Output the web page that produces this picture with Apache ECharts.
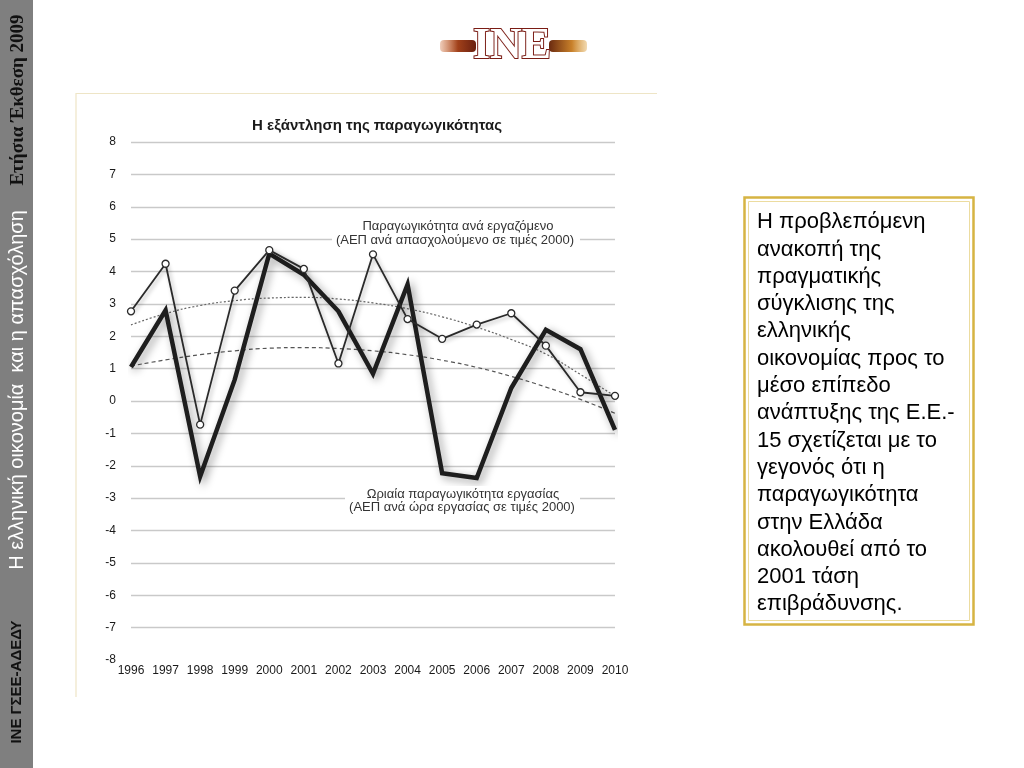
<!DOCTYPE html>
<html>
<head>
<meta charset="utf-8">
<script src="https://cdn.jsdelivr.net/npm/echarts@6/dist/echarts.min.js"></script>
<style>html,body{margin:0;padding:0;background:#fff;}#c{width:1024px;height:768px;}</style>
</head>
<body>
<div id="c"></div>
<script>
var years = ['1996','1997','1998','1999','2000','2001','2002','2003','2004','2005','2006','2007','2008','2009','2010'];
var perEmployee = [2.77, 4.24, -0.73, 3.41, 4.66, 4.08, 1.16, 4.53, 2.53, 1.92, 2.36, 2.71, 1.71, 0.27, 0.16];
var perHour = [1.05, 2.8, -2.33, 0.66, 4.55, 3.9, 2.77, 0.84, 3.6, -2.23, -2.38, 0.4, 2.2, 1.6, -0.89];
var trendEmployee = [2.35, 2.7, 2.95, 3.1, 3.18, 3.2, 3.15, 3.03, 2.85, 2.6, 2.28, 1.9, 1.45, 0.82, 0.15];
var trendHour = [1.08, 1.27, 1.43, 1.55, 1.63, 1.65, 1.62, 1.55, 1.43, 1.26, 1.04, 0.76, 0.43, 0.05, -0.38];
var yTicks = [-8, 8, 1];
var titleText = 'Η εξάντληση της παραγωγικότητας';
var noteEmployee = ['Παραγωγικότητα ανά εργαζόμενο', '(ΑΕΠ ανά απασχολούμενο σε τιμές 2000)'];
var noteHour = ['Ωριαία παραγωγικότητα εργασίας', '(ΑΕΠ ανά ώρα εργασίας σε τιμές 2000)'];
var boxLines = ['Η προβλεπόμενη','ανακοπή της','πραγματικής','σύγκλισης της','ελληνικής','οικονομίας προς το','μέσο επίπεδο','ανάπτυξης της Ε.Ε.-','15 σχετίζεται με το','γεγονός ότι η','παραγωγικότητα','στην Ελλάδα','ακολουθεί από το','2001 τάση','επιβράδυνσης.'];
var sideTexts = ['ΙΝΕ ΓΣΕΕ-ΑΔΕΔΥ', 'Η ελληνική οικονομία  και η απασχόληση', 'Ετήσια Έκθεση 2009'];

var splitColors = [];
for (var v = yTicks[0]; v <= yTicks[1]; v += yTicks[2]) splitColors.push(v === yTicks[0] ? 'rgba(0,0,0,0)' : '#c9c9c9');

var chart = echarts.init(document.getElementById('c'), null, {renderer: 'canvas'});
var font = 'Helvetica, "Liberation Sans", Arial, sans-serif';

var option = {
  animation: false,
  backgroundColor: '#fff',
  title: {
    text: titleText, left: 372, top: 113, textAlign: 'center',
    textStyle: {fontFamily: font, fontSize: 15, fontWeight: 'bold', color: '#1a1a1a'}
  },
  grid: {left: 131, right: 409, top: 142, bottom: 108, containLabel: false},
  xAxis: {
    type: 'category', data: years, boundaryGap: false,
    axisLine: {show: false}, axisTick: {show: false},
    axisLabel: {fontFamily: font, fontSize: 12, color: '#1a1a1a', margin: 5, interval: 0}
  },
  yAxis: {
    type: 'value', min: yTicks[0], max: yTicks[1], interval: yTicks[2],
    axisLine: {show: false}, axisTick: {show: false},
    axisLabel: {fontFamily: font, fontSize: 12, color: '#1a1a1a', margin: 15},
    splitLine: {show: true, lineStyle: {color: splitColors, width: 1.3}}
  },
  series: [
    {
      name: 'trendEmployee', type: 'line', data: trendEmployee, smooth: true, symbol: 'none', z: 2,
      lineStyle: {color: '#666', width: 1.2, type: [2, 2]}
    },
    {
      name: 'trendHour', type: 'line', data: trendHour, smooth: true, symbol: 'none', z: 2,
      lineStyle: {color: '#555', width: 1.2, type: [4, 3]}
    },
    {
      name: 'perHour', type: 'line', data: perHour, symbol: 'none', z: 3,
      lineStyle: {color: '#1e1e1e', width: 4.5, join: 'miter', shadowColor: 'rgba(0,0,0,0.4)', shadowBlur: 9, shadowOffsetX: 3, shadowOffsetY: 3}
    },
    {
      name: 'perEmployee', type: 'line', data: perEmployee, symbol: 'circle', symbolSize: 7, z: 4,
      lineStyle: {color: '#2a2a2a', width: 1.8, shadowColor: 'rgba(0,0,0,0.3)', shadowBlur: 4, shadowOffsetX: 2, shadowOffsetY: 2},
      itemStyle: {color: '#fff', borderColor: '#2a2a2a', borderWidth: 1.3}
    }
  ],
  graphic: [
    {type: 'polyline', z: 0, shape: {points: [[76, 697], [76, 93.5], [657, 93.5]]}, style: {stroke: '#eee5c6', lineWidth: 1.2, fill: null}},
    {type: 'rect', z: 10, shape: {x: 332, y: 217, width: 248, height: 31}, style: {fill: '#fff'}},
    {type: 'text', z: 11, x: 458, y: 226, style: {text: noteEmployee[0], font: '13px ' + font, fill: '#333', align: 'center', verticalAlign: 'middle'}},
    {type: 'text', z: 11, x: 455, y: 240, style: {text: noteEmployee[1], font: '13px ' + font, fill: '#333', align: 'center', verticalAlign: 'middle'}},
    {type: 'rect', z: 10, shape: {x: 345, y: 486, width: 235, height: 29}, style: {fill: '#fff'}},
    {type: 'text', z: 11, x: 463, y: 494, style: {text: noteHour[0], font: '13px ' + font, fill: '#333', align: 'center', verticalAlign: 'middle'}},
    {type: 'text', z: 11, x: 462, y: 507, style: {text: noteHour[1], font: '13px ' + font, fill: '#333', align: 'center', verticalAlign: 'middle'}},
    {type: 'rect', z: 0, shape: {x: 0, y: 0, width: 33, height: 768}, style: {fill: '#7f7f7f'}},
    {type: 'text', z: 1, x: 17, y: 682, rotation: Math.PI / 2, style: {text: sideTexts[0], font: 'bold 15px "Liberation Sans", Arial, sans-serif', fill: '#111', align: 'center', verticalAlign: 'middle'}},
    {type: 'text', z: 1, x: 17, y: 390, rotation: Math.PI / 2, style: {text: sideTexts[1], font: '20px "Liberation Sans", Arial, sans-serif', fill: '#fff', align: 'center', verticalAlign: 'middle'}},
    {type: 'text', z: 1, x: 18, y: 100, rotation: Math.PI / 2, style: {text: sideTexts[2], font: 'bold 19px "Liberation Serif", "Times New Roman", serif', fill: '#111', align: 'center', verticalAlign: 'middle'}},
    {type: 'rect', z: 1, shape: {x: 440, y: 40, width: 36, height: 12, r: 4}, style: {fill: new echarts.graphic.LinearGradient(0, 0, 1, 0, [{offset: 0, color: 'rgba(200,90,30,0.3)'}, {offset: 0.5, color: '#a0401a'}, {offset: 1, color: '#6a2010'}])}},
    {type: 'rect', z: 1, shape: {x: 549, y: 40, width: 38, height: 12, r: 4}, style: {fill: new echarts.graphic.LinearGradient(0, 0, 1, 0, [{offset: 0, color: '#6a2a10'}, {offset: 0.6, color: '#c8802a'}, {offset: 1, color: 'rgba(220,160,60,0.4)'}])}},
    {type: 'text', z: 2, x: 512, y: 47, style: {text: 'INE', font: 'bold 44px "Liberation Serif", "Times New Roman", serif', fill: '#fff', stroke: '#7a1c14', lineWidth: 2, align: 'center', verticalAlign: 'middle'}},
    {type: 'rect', z: 1, shape: {x: 744.5, y: 197.5, width: 229, height: 427}, style: {fill: '#fff', stroke: '#d6b443', lineWidth: 2.5}},
    {type: 'rect', z: 1, shape: {x: 748.5, y: 201.5, width: 221, height: 419}, style: {fill: null, stroke: '#ecdca0', lineWidth: 1}},
    {type: 'text', z: 2, x: 757, y: 208.5, style: {text: boxLines.join('\n'), font: '22px "Liberation Sans", Arial, sans-serif', fill: '#000', lineHeight: 27.3, align: 'left', verticalAlign: 'top'}}
  ]
};
chart.setOption(option);
</script>
</body>
</html>
